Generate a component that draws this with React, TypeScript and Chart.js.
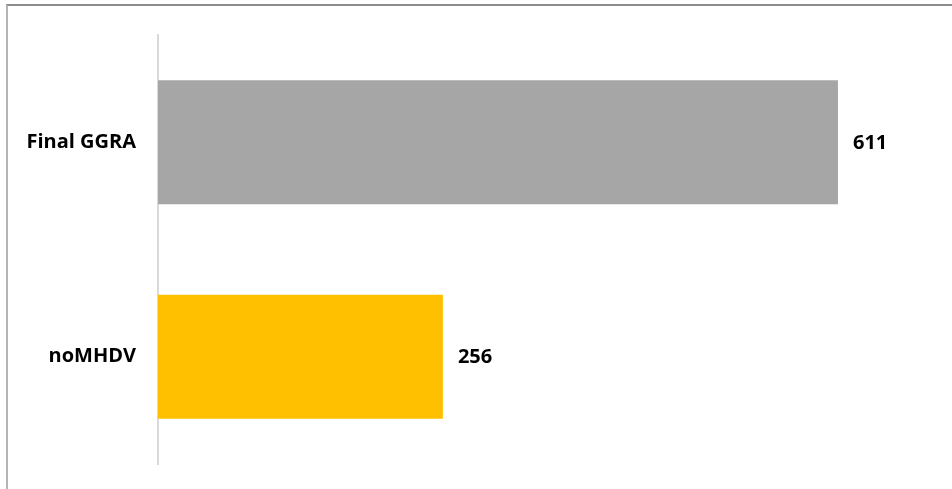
import React, { useEffect, useRef } from "react";
import { Chart, registerables } from "chart.js";

Chart.register(...registerables);

const categories = ["Final GGRA", "noMHDV"];
const values = [611, 256];
const barColors = ["#a6a6a6", "#ffc000"];
const axisMax = 700;

const FONT = "'Open Sans', 'Liberation Sans', sans-serif";

const valueLabels = {
  id: "valueLabels",
  afterDatasetsDraw(chart: any) {
    const ctx = chart.ctx;
    const meta = chart.getDatasetMeta(0);
    ctx.save();
    ctx.font = `bold 20px ${FONT}`;
    ctx.fillStyle = "#000000";
    ctx.textAlign = "left";
    ctx.textBaseline = "middle";
    meta.data.forEach((bar: any, i: number) => {
      ctx.fillText(String(values[i]), bar.x + 15, bar.y + 1);
    });
    ctx.restore();
  },
};

export default function App() {
  const ref = useRef<HTMLCanvasElement>(null);
  useEffect(() => {
    document.body.style.margin = "0";
    const chart = new Chart(ref.current!, {
      type: "bar",
      data: {
        labels: categories,
        datasets: [
          {
            data: values,
            backgroundColor: barColors,
            borderWidth: 0,
            categoryPercentage: 0.578,
            barPercentage: 1,
          },
        ],
      },
      options: {
        indexAxis: "y",
        animation: false,
        responsive: false,
        maintainAspectRatio: false,
        layout: { padding: { top: 35, bottom: 25, right: 15, left: 0 } },
        plugins: {
          legend: { display: false },
          tooltip: { enabled: false },
          title: { display: false },
        },
        scales: {
          x: {
            display: false,
            min: 0,
            max: axisMax,
          },
          y: {
            afterFit(scale: any) {
              scale.width = 158;
              scale.paddingTop = 0;
              scale.paddingBottom = 0;
            },
            grid: { display: false, drawTicks: false },
            border: { display: true, color: "#d9d9d9", width: 2 },
            ticks: {
              color: "#000000",
              padding: 22,
              font: { family: FONT, size: 20, weight: "bold" },
            },
          },
        },
      },
      plugins: [valueLabels],
    });
    return () => chart.destroy();
  }, []);

  return (
    <div style={{ position: "relative", width: 952, height: 489, background: "#ffffff", overflow: "hidden" }}>
      <div
        style={{
          position: "absolute",
          left: 6,
          top: 4,
          right: 0,
          bottom: 0,
          borderTop: "2px solid #8c8c8c",
          borderLeft: "2px solid #b4b4b4",
        }}
      />
      <canvas ref={ref} width={952} height={489} style={{ position: "absolute", left: 0, top: 0 }} />
    </div>
  );
}
